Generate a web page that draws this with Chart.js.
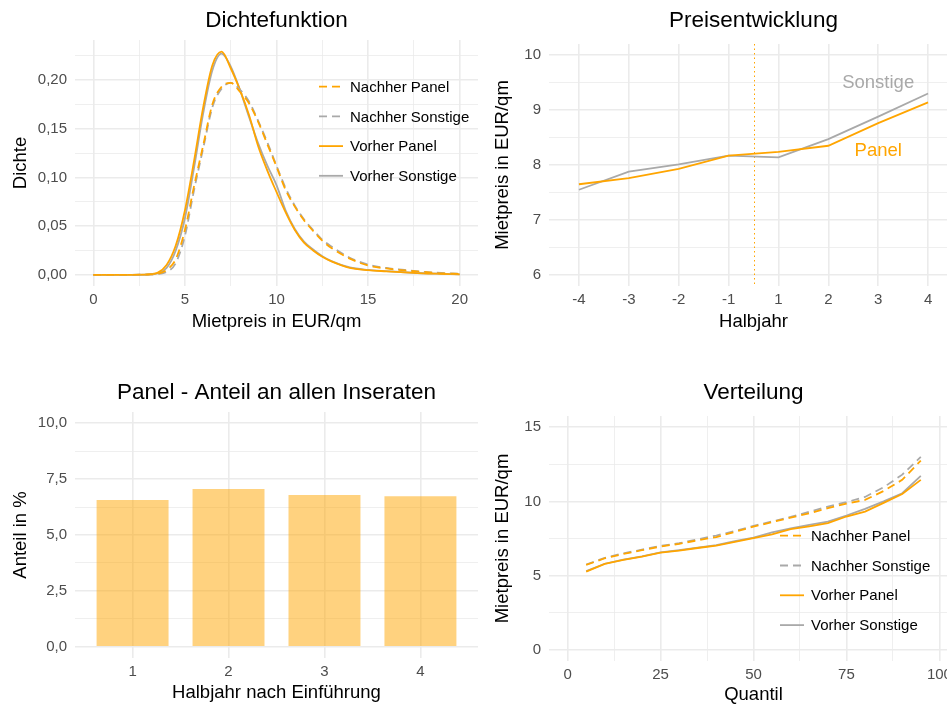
<!DOCTYPE html>
<html>
<head>
<meta charset="utf-8">
<script src="https://cdn.jsdelivr.net/npm/chart.js@4.4.1/dist/chart.umd.min.js"></script>
<style>
  html, body { margin: 0; padding: 0; background: #fff; overflow: hidden; }
  body { width: 947px; height: 706px; position: relative; }
  canvas { position: absolute; }
</style>
</head>
<body>
<canvas id="dichte" width="478" height="353" style="left:0;top:0"></canvas>
<canvas id="preis" width="484" height="353" style="left:474px;top:0"></canvas>
<canvas id="anteil" width="478" height="353" style="left:0;top:353px"></canvas>
<canvas id="verteilung" width="484" height="353" style="left:474px;top:353px"></canvas>
<script>
// Dichtefunktion
var densX = [0, 1, 2, 3, 3.5, 4, 4.5, 5, 5.5, 6, 6.5, 7, 7.5, 8, 8.5, 9, 9.5, 10, 10.5, 11, 11.5, 12, 12.5, 13, 14, 15, 16, 17, 18, 19, 20];
var nachherPanelDichte = [0, 0, 0, 0.0003, 0.001, 0.005, 0.016, 0.046, 0.091, 0.133, 0.175, 0.193, 0.197, 0.188, 0.176, 0.157, 0.134, 0.111, 0.087, 0.070, 0.056, 0.045, 0.035, 0.0275, 0.0166, 0.0095, 0.0065, 0.0045, 0.003, 0.0015, 0.001];
var nachherSonstigeDichte = [0, 0, 0, 0.0002, 0.0008, 0.003, 0.012, 0.040, 0.087, 0.130, 0.172, 0.191, 0.197, 0.190, 0.178, 0.158, 0.136, 0.112, 0.089, 0.071, 0.057, 0.046, 0.036, 0.029, 0.0175, 0.0105, 0.007, 0.005, 0.003, 0.002, 0.001];
var vorherPanelDichte = [0, 0, 0, 0.0005, 0.002, 0.010, 0.030, 0.066, 0.117, 0.172, 0.215, 0.229, 0.212, 0.190, 0.164, 0.132, 0.107, 0.085, 0.064, 0.046, 0.033, 0.025, 0.0185, 0.0138, 0.0071, 0.0048, 0.0036, 0.0025, 0.0015, 0.001, 0.0005];
var vorherSonstigeDichte = [0, 0, 0, 0.0003, 0.0015, 0.007, 0.025, 0.058, 0.110, 0.166, 0.210, 0.227, 0.214, 0.190, 0.162, 0.135, 0.112, 0.092, 0.066, 0.047, 0.034, 0.026, 0.019, 0.014, 0.0075, 0.005, 0.0037, 0.0026, 0.0016, 0.001, 0.0005];
var densXTicks = [0, 2.5, 5, 7.5, 10, 12.5, 15, 17.5, 20];
var densXMajor = [0, 5, 10, 15, 20];
var densXLabels = ["0", "5", "10", "15", "20"];
var densYTicks = [0, 0.025, 0.05, 0.075, 0.1, 0.125, 0.15, 0.175, 0.2, 0.225];
var densYMajor = [0, 0.05, 0.1, 0.15, 0.2];
var densYLabels = ["0,00", "0,05", "0,10", "0,15", "0,20"];

// Preisentwicklung
var halbjahrLabels = ["-4", "-3", "-2", "-1", "1", "2", "3", "4"];
var preisSonstige = [7.55, 7.88, 8.01, 8.17, 8.14, 8.47, 8.88, 9.30];
var preisPanel = [7.65, 7.76, 7.93, 8.17, 8.24, 8.35, 8.76, 9.14];
var preisBreak = 4.5; // zwischen -1 und 1
var preisNoteText = ["Sonstige", "Panel"];
var preisNoteX = [7, 7];
var preisNoteY = [9.5, 8.25];
var preisYTicks = [6, 6.5, 7, 7.5, 8, 8.5, 9, 9.5, 10];
var preisYMajor = [6, 7, 8, 9, 10];
var preisYLabels = ["6", "7", "8", "9", "10"];

// Panel - Anteil
var anteilLabels = ["1", "2", "3", "4"];
var anteilPanel = [6.57, 7.06, 6.79, 6.73];
var anteilYTicks = [0, 1.25, 2.5, 3.75, 5, 6.25, 7.5, 8.75, 10];
var anteilYMajor = [0, 2.5, 5, 7.5, 10];
var anteilYLabels = ["0,0", "2,5", "5,0", "7,5", "10,0"];

// Verteilung
var quantil = [5, 10, 15, 20, 25, 30, 35, 40, 45, 50, 55, 60, 65, 70, 75, 80, 85, 90, 95];
var nachherPanelQ = [5.72, 6.17, 6.46, 6.71, 6.96, 7.14, 7.38, 7.60, 7.95, 8.30, 8.60, 8.91, 9.20, 9.54, 9.85, 10.10, 10.70, 11.45, 12.75];
var nachherSonstigeQ = [5.75, 6.20, 6.50, 6.75, 7.00, 7.18, 7.45, 7.70, 8.00, 8.35, 8.65, 8.95, 9.30, 9.65, 9.95, 10.30, 10.95, 11.80, 13.00];
var vorherPanelQ = [5.27, 5.79, 6.06, 6.28, 6.55, 6.69, 6.86, 7.02, 7.27, 7.52, 7.78, 8.13, 8.32, 8.53, 8.98, 9.31, 9.90, 10.50, 11.45];
var vorherSonstigeQ = [5.30, 5.80, 6.08, 6.30, 6.56, 6.71, 6.88, 7.05, 7.32, 7.56, 7.92, 8.18, 8.42, 8.64, 9.05, 9.50, 10.00, 10.55, 11.72];
var quantilXTicks = [0, 12.5, 25, 37.5, 50, 62.5, 75, 87.5, 100];
var quantilXMajor = [0, 25, 50, 75, 100];
var quantilXLabels = ["0", "25", "50", "75", "100"];
var verteilungYTicks = [0, 2.5, 5, 7.5, 10, 12.5, 15];
var verteilungYMajor = [0, 5, 10, 15];
var verteilungYLabels = ["0", "5", "10", "15"];

var ORANGE = "#FFA500";
var GREY = "#A9A9A9";
var FONT = "'Liberation Sans', Arial, Helvetica, sans-serif";

Chart.defaults.font.family = FONT;
Chart.defaults.color = "#4D4D4D";
Chart.defaults.animation = false;

function positions(labels) {
  return labels.map(function (l, i) { return i + 1; });
}

function tickAxis(cfg) {
  return {
    type: "linear",
    min: cfg.min,
    max: cfg.max,
    offset: false,
    border: { display: false },
    grid: {
      offset: false,
      drawTicks: false,
      color: "#EBEBEB",
      lineWidth: function (c) {
        return c.tick && cfg.major.indexOf(c.tick.value) < 0 ? 0.8 : 1.6;
      }
    },
    ticks: {
      autoSkip: false,
      maxRotation: 0,
      padding: cfg.tickPad,
      color: "#4D4D4D",
      font: { size: 15 },
      callback: function (v) {
        var i = cfg.major.indexOf(v);
        return i < 0 ? "" : cfg.labels[i];
      }
    },
    title: { display: true, text: cfg.title, color: "#000", font: { size: 18.5 }, padding: cfg.titlePad },
    afterBuildTicks: function (s) {
      s.ticks = cfg.all.map(function (v) { return { value: v }; });
    },
    afterFit: function (s) {
      if (cfg.width) s.width = cfg.width;
      if (cfg.height) s.height = cfg.height;
      s.paddingLeft = 0;
      s.paddingRight = 0;
      s.paddingTop = 0;
      s.paddingBottom = 0;
    }
  };
}

function line(label, xs, ys, color, dash, smooth) {
  return {
    label: label,
    data: xs.map(function (x, i) { return { x: x, y: ys[i] }; }),
    borderColor: color,
    borderWidth: 1.8,
    borderDash: dash,
    pointRadius: 0,
    fill: false,
    cubicInterpolationMode: smooth ? "monotone" : "default",
    tension: 0
  };
}

function title(text, top, bottom) {
  return {
    display: true,
    text: text,
    fullSize: false,
    color: "#000",
    font: { size: 22.5, weight: "normal" },
    padding: { top: top, bottom: bottom }
  };
}

var keyLegend = {
  id: "keyLegend",
  afterDatasetsDraw: function (chart, args, o) {
    if (!o || o.x === undefined) return;
    var ctx = chart.ctx;
    ctx.save();
    ctx.font = "15px " + FONT;
    ctx.textBaseline = "middle";
    chart.data.datasets.forEach(function (ds, i) {
      var y = o.y + i * o.step;
      ctx.beginPath();
      ctx.setLineDash(ds.borderDash || []);
      ctx.strokeStyle = ds.borderColor;
      ctx.lineWidth = ds.borderWidth;
      ctx.moveTo(o.x, y);
      ctx.lineTo(o.x + 24, y);
      ctx.stroke();
      ctx.setLineDash([]);
      ctx.fillStyle = "#000";
      ctx.fillText(ds.label, o.x + 31, y + 1);
    });
    ctx.restore();
  }
};

var breakLine = {
  id: "breakLine",
  beforeDatasetsDraw: function (chart) {
    var ctx = chart.ctx, a = chart.chartArea;
    var x = Math.round(chart.scales.x.getPixelForValue(preisBreak)) + 0.5;
    ctx.save();
    ctx.strokeStyle = ORANGE;
    ctx.lineWidth = 1;
    ctx.setLineDash([1.5, 3]);
    ctx.beginPath();
    ctx.moveTo(x, a.top);
    ctx.lineTo(x, a.bottom);
    ctx.stroke();
    ctx.restore();
  }
};

var notes = {
  id: "notes",
  afterDatasetsDraw: function (chart) {
    var ctx = chart.ctx;
    var colors = [GREY, ORANGE];
    ctx.save();
    ctx.font = "18.5px " + FONT;
    ctx.textAlign = "center";
    ctx.textBaseline = "middle";
    preisNoteText.forEach(function (t, i) {
      ctx.fillStyle = colors[i];
      ctx.fillText(t, chart.scales.x.getPixelForValue(preisNoteX[i]), chart.scales.y.getPixelForValue(preisNoteY[i]));
    });
    ctx.restore();
  }
};

var layout = { autoPadding: false, padding: { left: 5, right: 0, top: 0, bottom: 0 } };

new Chart(document.getElementById("dichte"), {
  type: "line",
  data: {
    datasets: [
      line("Nachher Panel", densX, nachherPanelDichte, ORANGE, [8, 5], true),
      line("Nachher Sonstige", densX, nachherSonstigeDichte, GREY, [8, 5], true),
      line("Vorher Panel", densX, vorherPanelDichte, ORANGE, [], true),
      line("Vorher Sonstige", densX, vorherSonstigeDichte, GREY, [], true)
    ]
  },
  options: {
    responsive: false,
    layout: layout,
    scales: {
      x: tickAxis({ min: -1, max: 21, all: densXTicks, major: densXMajor, labels: densXLabels, height: 67, tickPad: 5, title: "Mietpreis in EUR/qm", titlePad: { top: 0, bottom: 20 } }),
      y: tickAxis({ min: -0.0115, max: 0.241, all: densYTicks, major: densYMajor, labels: densYLabels, width: 70, tickPad: 8, title: "Dichte", titlePad: { top: 4.6, bottom: 0 } })
    },
    plugins: {
      legend: { display: false },
      tooltip: { enabled: false },
      title: title("Dichtefunktion", 7, 6),
      keyLegend: { x: 319, y: 86.7, step: 29.7 }
    }
  },
  plugins: [keyLegend]
});

new Chart(document.getElementById("preis"), {
  type: "line",
  data: {
    datasets: [
      line("Panel", positions(halbjahrLabels), preisPanel, ORANGE, [], false),
      line("Sonstige", positions(halbjahrLabels), preisSonstige, GREY, [], false)
    ]
  },
  options: {
    responsive: false,
    layout: layout,
    scales: {
      x: tickAxis({ min: 0.4, max: 8.6, all: positions(halbjahrLabels), major: positions(halbjahrLabels), labels: halbjahrLabels, height: 67, tickPad: 5, title: "Halbjahr", titlePad: { top: 0, bottom: 20 } }),
      y: tickAxis({ min: 5.8, max: 10.2, all: preisYTicks, major: preisYMajor, labels: preisYLabels, width: 70, tickPad: 8, title: "Mietpreis in EUR/qm", titlePad: { top: 12.9, bottom: 0 } })
    },
    plugins: {
      legend: { display: false },
      tooltip: { enabled: false },
      title: title("Preisentwicklung", 7.3, 9.7)
    }
  },
  plugins: [breakLine, notes]
});

new Chart(document.getElementById("anteil"), {
  type: "bar",
  data: {
    datasets: [{
      label: "Anteil in %",
      data: positions(anteilLabels).map(function (x, i) { return { x: x, y: anteilPanel[i] }; }),
      backgroundColor: "rgba(255, 165, 0, 0.5)",
      borderWidth: 0,
      barPercentage: 0.75,
      categoryPercentage: 1
    }]
  },
  options: {
    responsive: false,
    layout: layout,
    scales: {
      x: tickAxis({ min: 0.4, max: 4.6, all: positions(anteilLabels), major: positions(anteilLabels), labels: anteilLabels, height: 48, tickPad: 5, title: "Halbjahr nach Einführung", titlePad: { top: 0, bottom: 2 } }),
      y: tickAxis({ min: -0.5, max: 10.5, all: anteilYTicks, major: anteilYMajor, labels: anteilYLabels, width: 70, tickPad: 8, title: "Anteil in %", titlePad: { top: 4.6, bottom: 0 } })
    },
    plugins: {
      legend: { display: false },
      tooltip: { enabled: false },
      title: title("Panel - Anteil an allen Inseraten", 26.3, 5.7)
    }
  }
});

new Chart(document.getElementById("verteilung"), {
  type: "line",
  data: {
    datasets: [
      line("Nachher Panel", quantil, nachherPanelQ, ORANGE, [8, 5], false),
      line("Nachher Sonstige", quantil, nachherSonstigeQ, GREY, [8, 5], false),
      line("Vorher Panel", quantil, vorherPanelQ, ORANGE, [], false),
      line("Vorher Sonstige", quantil, vorherSonstigeQ, GREY, [], false)
    ]
  },
  options: {
    responsive: false,
    layout: layout,
    scales: {
      x: tickAxis({ min: -5, max: 105, all: quantilXTicks, major: quantilXMajor, labels: quantilXLabels, height: 45, tickPad: 5, title: "Quantil", titlePad: { top: 0, bottom: 0 } }),
      y: tickAxis({ min: -0.75, max: 15.75, all: verteilungYTicks, major: verteilungYMajor, labels: verteilungYLabels, width: 70, tickPad: 8, title: "Mietpreis in EUR/qm", titlePad: { top: 12.9, bottom: 0 } })
    },
    plugins: {
      legend: { display: false },
      tooltip: { enabled: false },
      title: title("Verteilung", 26.3, 9.7),
      keyLegend: { x: 306, y: 182.7, step: 29.8 }
    }
  },
  plugins: [keyLegend]
});
</script>
</body>
</html>
